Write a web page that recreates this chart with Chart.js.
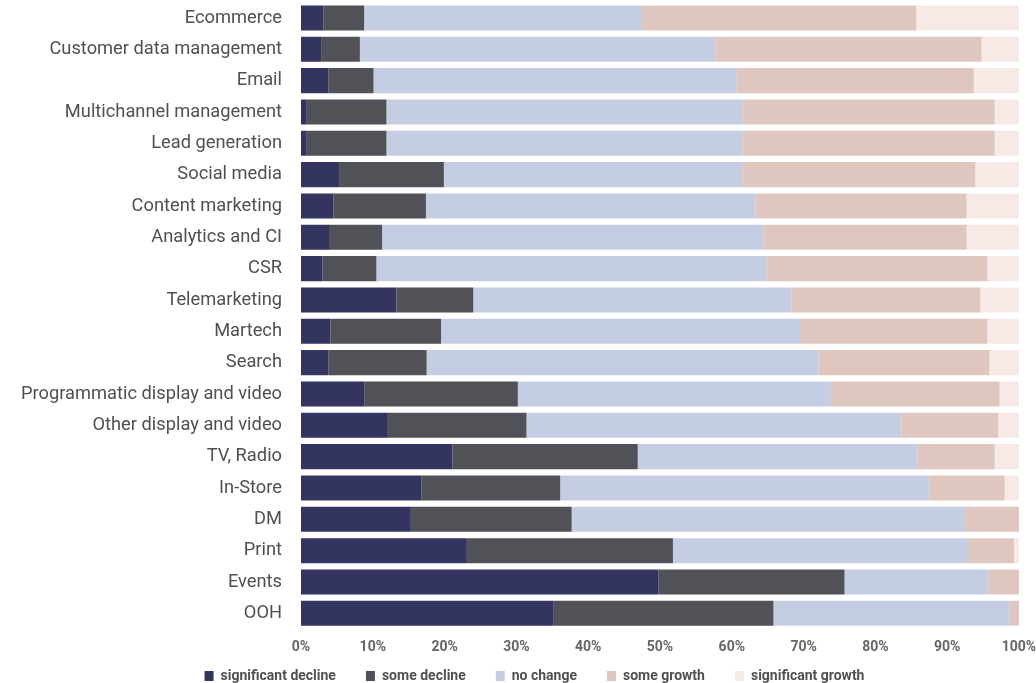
<!DOCTYPE html>
<html>
<head>
<meta charset="utf-8">
<script src="https://cdn.jsdelivr.net/npm/chart.js@4/dist/chart.umd.min.js"></script>
<style>
  html, body { margin: 0; padding: 0; background: #ffffff; }
  #wrap { width: 1036px; height: 683px; position: relative; }
</style>
</head>
<body>
<div id="wrap"><canvas id="c" width="1036" height="683"></canvas></div>
<script>
const categories = [
  "Ecommerce", "Customer data management", "Email", "Multichannel management",
  "Lead generation", "Social media", "Content marketing", "Analytics and CI",
  "CSR", "Telemarketing", "Martech", "Search", "Programmatic display and video",
  "Other display and video", "TV, Radio", "In-Store", "DM", "Print", "Events", "OOH"
];
const significantDecline = [3.1, 2.8, 3.8, 0.8, 0.8, 5.3, 4.5, 3.9, 3.0, 13.3, 4.1, 3.8, 8.8, 12.1, 21.1, 16.8, 15.3, 23.1, 49.8, 35.2];
const someDecline        = [5.7, 5.4, 6.3, 11.1, 11.1, 14.6, 12.9, 7.4, 7.5, 10.7, 15.4, 13.7, 21.4, 19.3, 25.8, 19.3, 22.4, 28.7, 25.9, 30.6];
const noChange           = [38.7, 49.5, 50.6, 49.6, 49.6, 41.6, 45.9, 53.1, 54.3, 44.3, 50.0, 54.6, 43.6, 52.2, 39.0, 51.4, 54.8, 41.1, 20.1, 32.9];
const someGrowth         = [38.2, 37.1, 33.0, 35.1, 35.1, 32.4, 29.4, 28.3, 30.8, 26.3, 26.1, 23.8, 23.5, 13.5, 10.7, 10.5, 7.5, 6.4, 4.2, 1.3];
const significantGrowth  = [14.3, 5.2, 6.3, 3.4, 3.4, 6.1, 7.3, 7.3, 4.4, 5.4, 4.4, 4.1, 2.7, 2.9, 3.4, 2.0, 0.0, 0.7, 0.0, 0.0];
const seriesNames = ["significant decline", "some decline", "no change", "some growth", "significant growth"];
const xTicks = [0, 10, 20, 30, 40, 50, 60, 70, 80, 90, 100];

const colors = ["#33345f", "#505257", "#c5cde3", "#dfc7bf", "#f6e9e6"];
const seriesData = [significantDecline, someDecline, noChange, someGrowth, significantGrowth];

const datasets = seriesNames.map((name, i) => ({
  label: name,
  data: seriesData[i],
  backgroundColor: colors[i],
  borderWidth: 0,
  categoryPercentage: 1.0,
  barPercentage: 0.8
}));

const PLOT_LEFT = 301;
const PAD_LEFT = 6;
const LEGEND_LEFT = 50;
const LEGEND_TOP = 639;

const legendPlacer = {
  id: 'legendPlacer',
  afterLayout(chart) {
    const lg = chart.legend;
    if (lg) {
      lg.top = LEGEND_TOP;
      lg.left = LEGEND_LEFT;
    }
  }
};

new Chart(document.getElementById('c'), {
  type: 'bar',
  data: { labels: categories, datasets: datasets },
  plugins: [legendPlacer],
  options: {
    indexAxis: 'y',
    responsive: false,
    animation: false,
    layout: { padding: { left: PAD_LEFT, right: 17, top: 2.3, bottom: 0 } },
    plugins: {
      tooltip: { enabled: false },
      legend: {
        position: 'bottom',
        align: 'center',
        maxHeight: 28,
        labels: {
          boxWidth: 9,
          boxHeight: 10,
          padding: 30,
          color: '#505050',
          font: { family: 'Roboto', size: 14, weight: 'bold' }
        }
      }
    },
    scales: {
      x: {
        stacked: true,
        min: 0,
        max: 100,
        afterBuildTicks: (axis) => { axis.ticks = xTicks.map(v => ({ value: v })); },
        afterFit: (axis) => { axis.height = 26; axis.paddingLeft = 0; axis.paddingRight = 0; },
        ticks: {
          padding: 10,
          color: '#666666',
          font: { family: 'Roboto', size: 14, weight: 'bold' },
          callback: (v) => v + '%',
          maxRotation: 0
        },
        grid: { display: false, drawTicks: false },
        border: { display: false }
      },
      y: {
        stacked: true,
        afterFit: (axis) => { axis.width = PLOT_LEFT - PAD_LEFT; axis.paddingTop = 0; axis.paddingBottom = 0; },
        ticks: {
          padding: 19,
          color: '#505050',
          font: { family: 'Roboto', size: 18.3 },
          autoSkip: false
        },
        grid: { display: false, drawTicks: false },
        border: { display: false }
      }
    }
  }
});
</script>
</body>
</html>
